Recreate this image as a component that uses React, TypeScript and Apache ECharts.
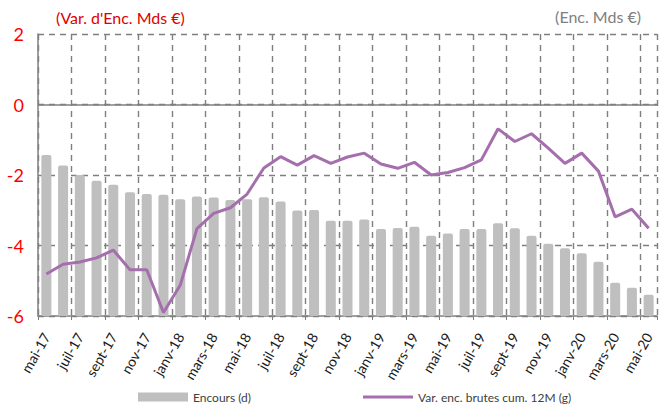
import React, { useEffect, useRef } from "react";
import * as echarts from "echarts";

const categories = [
  "mai-17", "juin-17", "juil-17", "août-17", "sept-17", "oct-17", "nov-17", "déc-17",
  "janv-18", "févr-18", "mars-18", "avr-18", "mai-18", "juin-18", "juil-18", "août-18",
  "sept-18", "oct-18", "nov-18", "déc-18", "janv-19", "févr-19", "mars-19", "avr-19",
  "mai-19", "juin-19", "juil-19", "août-19", "sept-19", "oct-19", "nov-19", "déc-19",
  "janv-20", "févr-20", "mars-20", "avr-20", "mai-20",
];

// Encours (d) – right axis (unlabelled), read as height above the chart floor
const encours = [
  4.57, 4.27, 4.0, 3.84, 3.72, 3.51, 3.46, 3.44, 3.31, 3.39, 3.36, 3.29, 3.31,
  3.37, 3.25, 2.99, 3.01, 2.7, 2.7, 2.74, 2.47, 2.5, 2.53, 2.28, 2.34, 2.47,
  2.47, 2.63, 2.49, 2.28, 2.05, 1.92, 1.78, 1.54, 0.94, 0.8, 0.6,
];

// Var. enc. brutes cum. 12M (g) – left axis
const variation = [
  -4.81, -4.53, -4.47, -4.35, -4.13, -4.69, -4.69, -5.9, -5.13, -3.52, -3.09,
  -2.93, -2.54, -1.8, -1.48, -1.72, -1.45, -1.67, -1.49, -1.38, -1.69, -1.81,
  -1.64, -2.0, -1.93, -1.79, -1.57, -0.69, -1.05, -0.83, -1.24, -1.67, -1.38,
  -1.89, -3.19, -2.97, -3.51,
];

const leftTicks = [-6, -4, -2, 0, 2];

const FONT = "Lato";
const GRID_COLOR = "#7f7f7f";
const LINE_COLOR = "#a46fac";

export default function App() {
  const ref = useRef<HTMLDivElement>(null);

  useEffect(() => {
    document.body.style.margin = "0";
    if (!ref.current) return;
    const chart = echarts.init(ref.current, undefined, { renderer: "svg" });
    chart.setOption({
      animation: false,
      textStyle: { fontFamily: FONT },
      grid: { left: 38, right: 4, top: 34, bottom: 92, containLabel: false },
      legend: [
        {
          data: [{ name: "Encours (d)", icon: "rect" }],
          left: 133,
          top: 386,
          itemWidth: 50,
          itemHeight: 9,
          itemGap: 5,
          textStyle: { fontFamily: FONT, fontSize: 12, color: "#404040" },
        },
        {
          data: [{ name: "Var. enc. brutes cum. 12M (g)", icon: "rect" }],
          left: 358,
          top: 386,
          itemWidth: 50,
          itemHeight: 3,
          textStyle: { fontFamily: FONT, fontSize: 12, color: "#404040" },
        },
      ],
      graphic: [
        {
          type: "text",
          left: 56,
          top: 9,
          style: { text: "(Var. d'Enc. Mds €)", fill: "#e00000", font: `16px ${FONT}` },
        },
        {
          type: "text",
          right: 20,
          top: 8,
          style: { text: "(Enc. Mds €)", fill: "#808080", font: `16px ${FONT}` },
        },
      ],
      xAxis: {
        type: "category",
        data: categories,
        boundaryGap: true,
        axisLine: { show: true, onZero: false, lineStyle: { color: GRID_COLOR, width: 1.5 } },
        axisTick: { show: true, interval: 1, length: 4, lineStyle: { color: GRID_COLOR } },
        axisLabel: {
          interval: 1,
          rotate: 60,
          margin: 18,
          fontFamily: FONT,
          fontSize: 14,
          color: "#1a1a1a",
        },
        splitLine: {
          show: true,
          interval: 1,
          lineStyle: { color: GRID_COLOR, type: [6, 5], width: 1.4 },
        },
      },
      yAxis: [
        {
          type: "value",
          min: leftTicks[0],
          max: leftTicks[leftTicks.length - 1],
          interval: 2,
          axisLine: { show: true, lineStyle: { color: GRID_COLOR, width: 1.5 } },
          axisTick: { show: false },
          axisLabel: { fontFamily: FONT, fontSize: 18, color: "#ff0000", margin: 14 },
          splitLine: { show: true, lineStyle: { color: GRID_COLOR, type: [6, 5], width: 1.4 } },
        },
        {
          type: "value",
          min: 0,
          max: 8,
          interval: 2,
          show: false,
          splitLine: { show: false },
        },
      ],
      series: [
        {
          name: "Encours (d)",
          type: "bar",
          yAxisIndex: 1,
          data: encours,
          barWidth: "60%",
          itemStyle: { color: "#bfbfbf", borderRadius: 2 },
          z: 2,
        },
        {
          name: "Var. enc. brutes cum. 12M (g)",
          type: "line",
          yAxisIndex: 0,
          data: variation,
          symbol: "none",
          lineStyle: { color: LINE_COLOR, width: 3 },
          itemStyle: { color: LINE_COLOR },
          z: 3,
          markLine: {
            silent: true,
            symbol: "none",
            label: { show: false },
            lineStyle: { color: GRID_COLOR, type: "solid", width: 1.5 },
            data: [{ yAxis: 0 }],
            z: 1,
          },
        },
      ],
    });
    return () => chart.dispose();
  }, []);

  return <div ref={ref} style={{ width: 661, height: 408 }} />;
}
